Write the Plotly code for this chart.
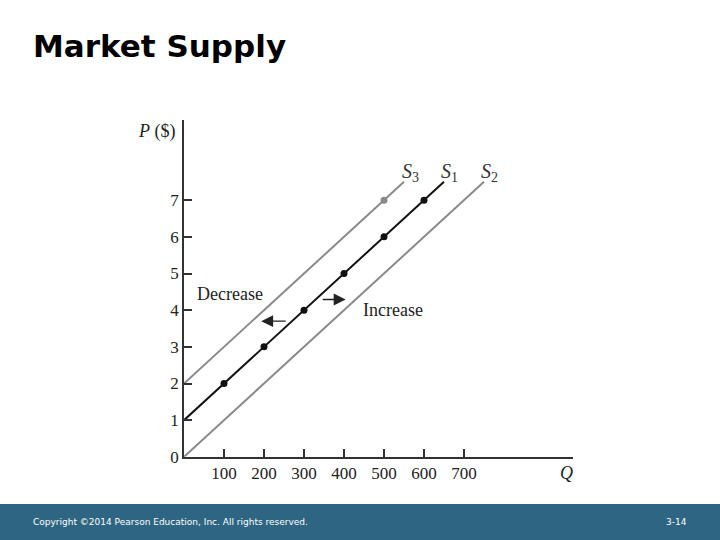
import plotly.graph_objects as go

# ---- data ----
x_ticks = [100, 200, 300, 400, 500, 600, 700]
y_ticks = [0, 1, 2, 3, 4, 5, 6, 7]

s1_q = [0, 650]
s1_p = [1, 7.5]
s2_q = [0, 750]
s2_p = [0, 7.5]
s3_q = [0, 550]
s3_p = [2, 7.5]

s1_dots_q = [100, 200, 300, 400, 500, 600]
s1_dots_p = [2, 3, 4, 5, 6, 7]
s3_dots_q = [500]
s3_dots_p = [7]

W, H = 720, 540          # reference slide size
FIG_H = 551              # rendered height (compensates vertical squeeze seen in the capture)
X0, X1 = 184, 573        # plot area pixel bounds (reference)
Y0, Y1 = 120, 456
x_max = (X1 - X0) / 40 * 100
y_max = (Y1 - Y0) / 36.6

serif = "Liberation Serif"

fig = go.Figure()
fig.add_trace(go.Scatter(x=s3_q, y=s3_p, mode="lines", line=dict(color="#8a8a8a", width=2), hoverinfo="skip"))
fig.add_trace(go.Scatter(x=s2_q, y=s2_p, mode="lines", line=dict(color="#8a8a8a", width=2), hoverinfo="skip"))
fig.add_trace(go.Scatter(x=s1_q, y=s1_p, mode="lines", line=dict(color="#111111", width=2), hoverinfo="skip"))
fig.add_trace(go.Scatter(x=s1_dots_q, y=s1_dots_p, mode="markers", marker=dict(color="#111111", size=7)))
fig.add_trace(go.Scatter(x=s3_dots_q, y=s3_dots_p, mode="markers", marker=dict(color="#8a8a8a", size=7)))

ann = []
# curve labels
for name, sub, q in [("S", "3", 565), ("S", "1", 663), ("S", "2", 763)]:
    ann.append(dict(x=q, y=7.76, xref="x", yref="y", text=f"<i>{name}</i><sub>{sub}</sub>",
                    showarrow=False, font=dict(family=serif, size=20, color="#333333")))
# shift labels
ann.append(dict(x=27, y=4.43, xref="x", yref="y", text="Decrease", xanchor="left", showarrow=False,
                font=dict(family=serif, size=18, color="#222222")))
ann.append(dict(x=442, y=4.0, xref="x", yref="y", text="Increase", xanchor="left", showarrow=False,
                font=dict(family=serif, size=18, color="#222222")))
# arrows
ann.append(dict(x=193, y=3.7, ax=258, ay=3.7, xref="x", yref="y", axref="x", ayref="y", text="",
                showarrow=True, arrowhead=2, arrowsize=1.7, arrowwidth=1.4, arrowcolor="#222222"))
ann.append(dict(x=404, y=4.29, ax=343, ay=4.29, xref="x", yref="y", axref="x", ayref="y", text="",
                showarrow=True, arrowhead=2, arrowsize=1.7, arrowwidth=1.4, arrowcolor="#222222"))
# axis titles
ann.append(dict(x=178 / W, y=1 - 131 / H, xref="paper", yref="paper", xanchor="right", yanchor="middle",
                text="<i>P</i> ($)", showarrow=False, font=dict(family=serif, size=18, color="#222222")))
ann.append(dict(x=566 / W, y=1 - 472 / H, xref="paper", yref="paper", xanchor="center", yanchor="middle",
                text="<i>Q</i>", showarrow=False, font=dict(family=serif, size=18, color="#222222")))
# slide title
ann.append(dict(x=31 / W, y=1 - 46 / H, xref="paper", yref="paper", xanchor="left", yanchor="middle",
                text="<b>Market Supply</b>", showarrow=False,
                font=dict(family="DejaVu Sans", size=31, color="#000000")))
# footer texts
ann.append(dict(x=31 / W, y=1 - 521 / H, xref="paper", yref="paper", xanchor="left", yanchor="middle",
                text="Copyright ©2014 Pearson Education, Inc. All rights reserved.", showarrow=False,
                font=dict(family="DejaVu Sans", size=9, color="#ffffff")))
ann.append(dict(x=689 / W, y=1 - 521 / H, xref="paper", yref="paper", xanchor="right", yanchor="middle",
                text="3-14", showarrow=False,
                font=dict(family="DejaVu Sans", size=9, color="#ffffff")))

fig.update_layout(
    width=W, height=FIG_H,
    margin=dict(l=0, r=0, t=0, b=0),
    paper_bgcolor="white", plot_bgcolor="white",
    showlegend=False,
    annotations=ann,
    shapes=[dict(type="rect", xref="paper", yref="paper", x0=0, x1=1, y0=0, y1=(H - 503) / H,
                 fillcolor="#2e6582", line=dict(width=0), layer="below")],
    xaxis=dict(domain=[X0 / W, X1 / W], range=[0, x_max], tickvals=x_ticks,
               ticktext=[str(v) for v in x_ticks], showgrid=False, zeroline=False,
               showline=True, linecolor="#333333", linewidth=1.5,
               ticks="inside", ticklen=8, tickwidth=1.5, tickcolor="#333333",
               tickfont=dict(family=serif, size=17, color="#222222")),
    yaxis=dict(domain=[(H - Y1) / H, (H - Y0) / H], range=[0, y_max], tickvals=y_ticks,
               ticktext=[str(v) for v in y_ticks], showgrid=False, zeroline=False,
               showline=True, linecolor="#333333", linewidth=1.5,
               ticks="inside", ticklen=8, tickwidth=1.5, tickcolor="#333333",
               tickfont=dict(family=serif, size=17, color="#222222")),
)

post = (
    "document.documentElement.style.margin='0';document.documentElement.style.padding='0';"
    "document.body.style.margin='0';document.body.style.padding='0';"
)
fig.write_html("out.html", config={"displayModeBar": False}, post_script=post)
